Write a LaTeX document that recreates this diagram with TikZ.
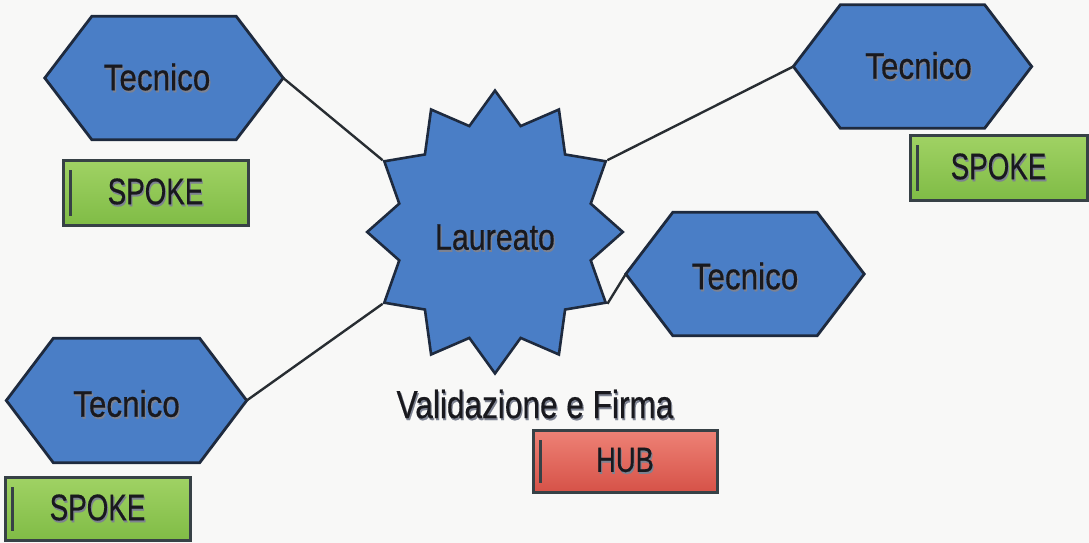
\documentclass[tikz,border=0pt]{standalone}
\usepackage{fontspec}
\setmainfont{Liberation Sans}[BoldFont={Liberation Sans},BoldFeatures={FakeBold=0.5}]
\usepackage{graphicx}
\usetikzlibrary{shapes.geometric,shadows}
\pgfdeclarelayer{bg}
\pgfdeclarelayer{shapes}
\pgfsetlayers{bg,shapes,main}
\definecolor{bgc}{RGB}{248,248,247}
\definecolor{hexblue}{RGB}{74,126,198}
\definecolor{hexedge}{RGB}{30,42,62}
\definecolor{txt}{RGB}{25,25,30}
\definecolor{shc}{RGB}{125,130,145}
\definecolor{greentop}{RGB}{160,210,100}
\definecolor{greenbot}{RGB}{128,188,70}
\definecolor{redtop}{RGB}{238,130,118}
\definecolor{redbot}{RGB}{214,82,72}
\definecolor{boxedge}{RGB}{55,65,70}
\definecolor{linec}{RGB}{40,45,50}

\newcommand\shd[1]{\makebox[0pt][l]{\kern1.5pt\raisebox{-2pt}{\textcolor{shc}{#1}}}#1}
\newcommand\lbl[3]{\fontsize{#1}{#1}\selectfont\bfseries\scalebox{#2}[1]{\shd{#3}}}
\newcommand\hexshape[1]{%
  \begin{pgfonlayer}{shapes}
    \draw[hexpath] (#1.west) -- ([xshift=47pt]#1.north west) -- ([xshift=-47pt]#1.north east)
      -- (#1.east) -- ([xshift=-47pt]#1.south east) -- ([xshift=47pt]#1.south west) -- cycle;
  \end{pgfonlayer}}
\newcommand\boxbar[1]{%
  \draw[barline] ([xshift=9pt,yshift=11pt]#1.south west) -- ([xshift=9pt,yshift=-11pt]#1.north west);}

\tikzset{
  hexnode/.style={rectangle, minimum width=238pt, minimum height=123pt, inner sep=0pt, text=txt},
  hexpath/.style={fill=hexblue, draw=hexedge, line width=2.8pt, line join=miter},
  starnode/.style={star, star points=12, star point ratio=1.29, minimum size=272pt, inner sep=0pt,
    xscale=0.94, yscale=1.04, transform shape,
    fill=hexblue, draw=hexedge, line width=2.6pt, text=txt},
  tagbox/.style={rectangle, inner sep=0pt, draw=boxedge, line width=3pt, text=txt,
    drop shadow={shadow xshift=2pt, shadow yshift=-2pt, opacity=0.35}},
  spokebox/.style={tagbox, top color=greentop, bottom color=greenbot, minimum width=185pt, minimum height=65pt},
  hubbox/.style={tagbox, top color=redtop, bottom color=redbot, minimum width=184pt, minimum height=62pt},
  barline/.style={draw=boxedge, line width=2.8pt},
  conn/.style={draw=linec, line width=2.4pt}
}

\begin{document}
\begin{tikzpicture}[x=1pt, y=-1pt]
  \useasboundingbox (0,0) rectangle (1089,543);
  \begin{pgfonlayer}{bg}
    \fill[bgc] (0,0) rectangle (1089,543);
  \end{pgfonlayer}

  % Hub star
  \node[starnode] (L) at (495,232) {\raisebox{-6pt}[\height][\depth]{\lbl{35.5}{0.91}{Laureato}}};

  % Tecnico hexagons
  \node[hexnode] (h1) at (164,78) {\hspace*{-14pt}\lbl{37}{0.85}{Tecnico}};
  \hexshape{h1}
  \node[hexnode] (h2) at (912.5,66.5) {\hspace*{12pt}\lbl{37}{0.85}{Tecnico}};
  \hexshape{h2}
  \node[hexnode] (h3) at (745,274) {\raisebox{-3pt}[\height][\depth]{\lbl{37}{0.85}{Tecnico}}};
  \hexshape{h3}
  \node[hexnode, minimum width=240pt, minimum height=124pt] (h4) at (126.5,400.5) {\raisebox{-4pt}[\height][\depth]{\lbl{37}{0.85}{Tecnico}}};
  \hexshape{h4}

  % connectors
  \draw[conn] (h1.east) -- (L.150);
  \draw[conn] (h2.west) -- (L.30);
  \draw[conn] (h3.west) -- (L.-30);
  \draw[conn] (h4.east) -- (L.210);

  % label
  \node[anchor=base, text=txt, inner sep=0pt] (val) at (535,418) {\lbl{39}{0.81}{Validazione e Firma}};

  % tag boxes
  \node[spokebox] (s1) at (155.5,192.5) {\lbl{37}{0.75}{SPOKE}};
  \boxbar{s1}
  \node[spokebox, minimum width=177pt] (s2) at (998.5,167.5) {\lbl{37}{0.75}{SPOKE}};
  \boxbar{s2}
  \node[spokebox, minimum height=63pt] (s3) at (97.5,508.5) {\lbl{37}{0.75}{SPOKE}};
  \boxbar{s3}
  \node[hubbox] (hub) at (625,461) {\lbl{35}{0.78}{HUB}};
  \boxbar{hub}
\end{tikzpicture}
\end{document}
